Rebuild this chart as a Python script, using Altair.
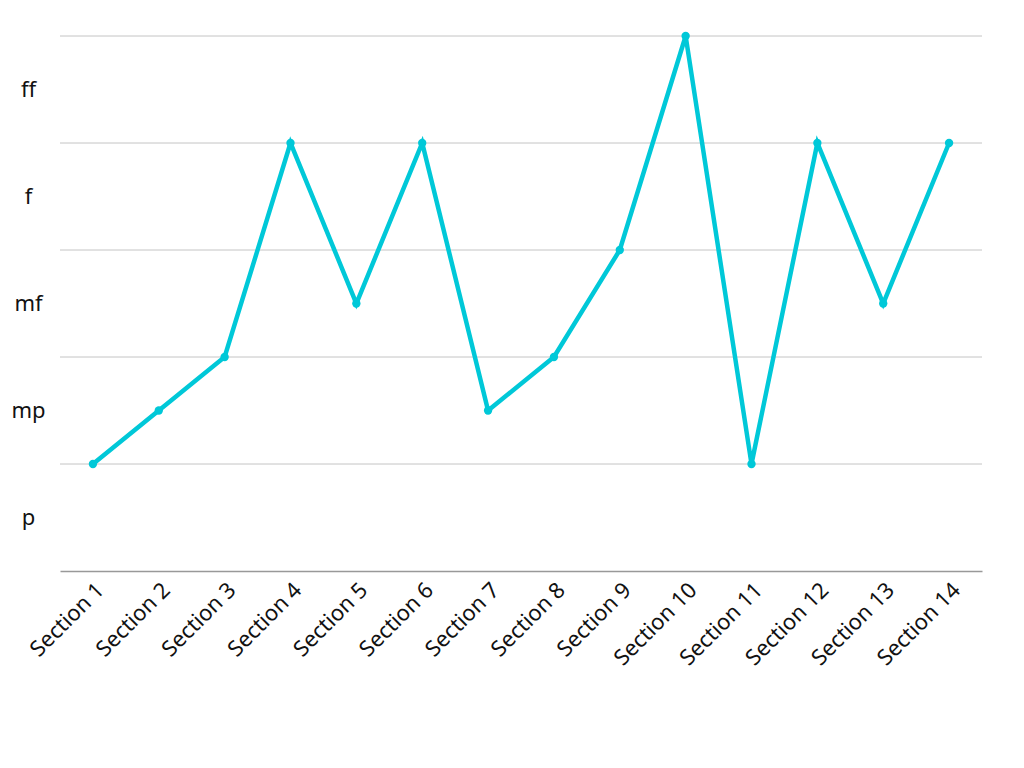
import altair as alt
import pandas as pd

sections = [f"Section {i}" for i in range(1, 15)]
levels = [1, 1.5, 2, 4, 2.5, 4, 1.5, 2, 3, 5, 1, 4, 2.5, 4]
dyn_labels = ["p", "mp", "mf", "f", "ff"]
dyn_positions = [0.5, 1.5, 2.5, 3.5, 4.5]
grid_values = [1, 2, 3, 4, 5]

df = pd.DataFrame({"section": sections, "level": levels})
grid_df = pd.DataFrame({"g": grid_values})

label_expr = " : ".join([f"datum.value == {p} ? '{l}'" for p, l in zip(dyn_positions, dyn_labels)]) + " : ''"

COLOR = "#00C8D8"
FONT = "Noto Sans"
FS = 22

x_enc = alt.X("section:N", sort=sections, title=None,
              scale=alt.Scale(padding=0.5),
              axis=alt.Axis(labelAngle=-45, labelFontSize=FS, labelFont=FONT,
                            labelColor="#111111", ticks=False, grid=False,
                            domainColor="#999999", domainWidth=1.5, labelPadding=8))
y_scale = alt.Scale(domain=[0, 5], nice=False, zero=True)

grid = alt.Chart(grid_df).mark_rule(color="#c4c4c4", strokeWidth=1).encode(
    y=alt.Y("g:Q", scale=y_scale, title=None,
            axis=alt.Axis(values=dyn_positions, labelExpr=label_expr, grid=False,
                          ticks=False, domain=False, labelFontSize=FS, labelFont=FONT,
                          labelColor="#111111", labelAlign="center", labelPadding=32))
)

line = alt.Chart(df).mark_line(color=COLOR, strokeWidth=4.5).encode(
    x=x_enc,
    y=alt.Y("level:Q", scale=y_scale),
)
pts = alt.Chart(df).mark_circle(color=COLOR, size=70, opacity=1).encode(
    x=alt.X("section:N", sort=sections),
    y=alt.Y("level:Q", scale=y_scale),
)

chart = alt.layer(grid, line, pts).properties(
    width=922, height=535,
    autosize=alt.AutoSizeParams(type="none"),
    padding={"left": 52, "top": 28, "right": 30, "bottom": 150},
).configure(background="white").configure_view(strokeWidth=0, stroke=None)

chart.save("out.html", embed_options={"renderer": "svg", "actions": False})
